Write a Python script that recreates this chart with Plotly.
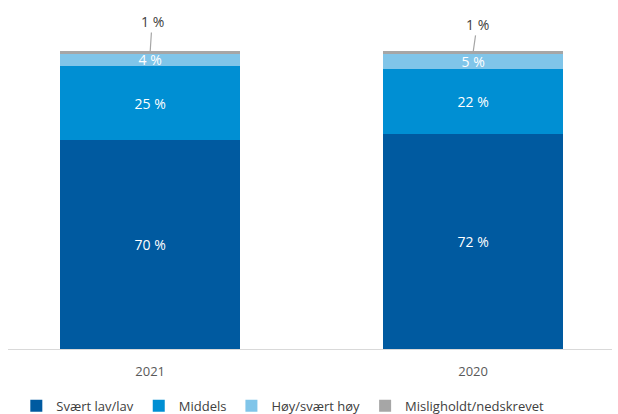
import plotly.graph_objects as go

years = ["2021", "2020"]
series_names = ["Svært lav/lav", "Middels", "Høy/svært høy", "Misligholdt/nedskrevet"]
svaert_lav = [70, 72]
middels = [25, 22]
hoy = [4, 5]
mislighold = [1, 1]
colors = ["#005AA0", "#008FD3", "#80C5E9", "#A6A6A6"]

values = [svaert_lav, middels, hoy, mislighold]

fig = go.Figure()
for i, (name, vals, col) in enumerate(zip(series_names, values, colors)):
    inside = i < 3
    fig.add_trace(go.Bar(
        x=years, y=vals, name=name, marker_color=col, marker_line_width=0,
        width=0.557,
        text=[f"{v} %" for v in vals] if inside else None,
        textposition="inside" if inside else "none",
        insidetextanchor="middle",
        textfont=dict(color="white", size=14, family="Open Sans"),
        hoverinfo="skip",
    ))

# outside labels for smallest series
offsets = [(2, -31), (4, -28)]
below = [a + b + c for a, b, c in zip(svaert_lav, middels, hoy)]
for idx, (tb, v, (ax, ay)) in enumerate(zip(below, mislighold, offsets)):
    fig.add_annotation(
        x=idx, y=tb + v / 2, xref="x", yref="y", text=f"{v} %",
        showarrow=True, arrowhead=0, arrowwidth=1.2, arrowcolor="#A6A6A6",
        ax=ax, ay=ay, font=dict(size=14, color="#404040", family="Open Sans"),
        standoff=0,
    )

fig.update_layout(
    barmode="stack",
    width=618, height=414,
    margin=dict(l=8, r=6, t=11, b=65),
    paper_bgcolor="white", plot_bgcolor="white",
    uniformtext=dict(minsize=13, mode="show"),
    showlegend=True,
    legend=dict(orientation="h", x=0.455, xanchor="center", yref="container", y=0.02, yanchor="middle",
                traceorder="normal",
                font=dict(size=13, color="#404040", family="Open Sans"),
                itemwidth=30, tracegroupgap=0),
    xaxis=dict(type="category", range=[-0.44, 1.43], showline=True, linecolor="#D9D9D9",
               linewidth=1, ticks="", showgrid=False,
               tickfont=dict(size=13, color="#595959", family="Open Sans"),
               ticklabelstandoff=10),
    yaxis=dict(range=[0, 113.4], visible=False, showgrid=False),
)

fig.write_html("out.html")
